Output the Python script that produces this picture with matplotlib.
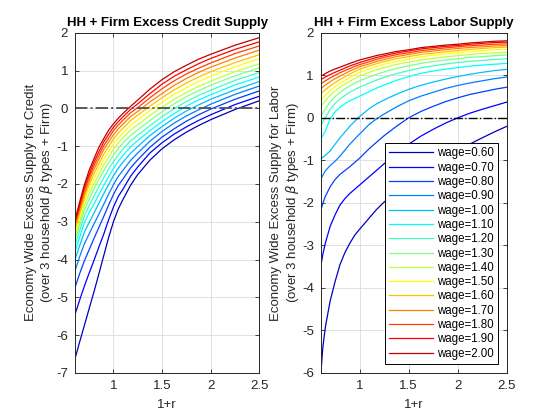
import numpy as np
import matplotlib
matplotlib.use("Agg")
import matplotlib.pyplot as plt

# -------------------------------------------------------------------------
# Data (values of each wage curve on a 1+r grid)
# -------------------------------------------------------------------------
wages = [0.60, 0.70, 0.80, 0.90, 1.00, 1.10, 1.20, 1.30,
         1.40, 1.50, 1.60, 1.70, 1.80, 1.90, 2.00]

r_credit = [0.605, 0.65, 0.7, 0.75, 0.8, 0.85, 0.9, 0.95, 1.0, 1.05, 1.1,
            1.175, 1.25, 1.375, 1.5, 1.625, 1.75, 1.875, 2.0, 2.25, 2.5]
credit = [
    [-6.62, -6.20, -5.75, -5.30, -4.85, -4.38, -3.90, -3.42, -3.00, -2.66, -2.40, -2.04, -1.75, -1.37, -1.07, -0.83, -0.63, -0.455, -0.30, -0.03, 0.20],
    [-5.45, -5.09, -4.71, -4.36, -4.02, -3.67, -3.33, -2.95, -2.61, -2.33, -2.13, -1.80, -1.55, -1.18, -0.91, -0.68, -0.49, -0.32, -0.17, 0.10, 0.32],
    [-4.74, -4.39, -4.04, -3.74, -3.44, -3.15, -2.86, -2.56, -2.28, -2.04, -1.86, -1.58, -1.36, -1.03, -0.76, -0.54, -0.34, -0.17, -0.02, 0.24, 0.46],
    [-4.30, -3.94, -3.59, -3.32, -3.06, -2.80, -2.54, -2.27, -2.02, -1.80, -1.63, -1.38, -1.18, -0.87, -0.61, -0.39, -0.20, -0.04, 0.11, 0.37, 0.59],
    [-4.00, -3.65, -3.28, -3.02, -2.77, -2.51, -2.26, -2.02, -1.78, -1.58, -1.42, -1.19, -1.01, -0.72, -0.48, -0.26, -0.07, 0.09, 0.24, 0.49, 0.71],
    [-3.80, -3.43, -3.03, -2.76, -2.53, -2.28, -2.04, -1.81, -1.59, -1.40, -1.24, -1.02, -0.85, -0.59, -0.35, -0.14, 0.06, 0.22, 0.36, 0.62, 0.83],
    [-3.64, -3.26, -2.85, -2.57, -2.32, -2.07, -1.83, -1.61, -1.41, -1.23, -1.07, -0.86, -0.71, -0.46, -0.22, -0.01, 0.18, 0.34, 0.48, 0.74, 0.95],
    [-3.50, -3.11, -2.70, -2.40, -2.14, -1.89, -1.65, -1.44, -1.24, -1.06, -0.91, -0.72, -0.57, -0.32, -0.09, 0.12, 0.31, 0.47, 0.61, 0.86, 1.07],
    [-3.39, -3.00, -2.57, -2.26, -2.00, -1.75, -1.50, -1.29, -1.08, -0.91, -0.77, -0.58, -0.43, -0.19, 0.03, 0.24, 0.42, 0.58, 0.72, 0.97, 1.18],
    [-3.29, -2.89, -2.46, -2.14, -1.86, -1.60, -1.35, -1.14, -0.94, -0.78, -0.64, -0.45, -0.30, -0.06, 0.16, 0.37, 0.55, 0.71, 0.85, 1.10, 1.31],
    [-3.20, -2.80, -2.36, -2.02, -1.73, -1.47, -1.22, -1.01, -0.81, -0.65, -0.52, -0.33, -0.18, 0.06, 0.28, 0.49, 0.67, 0.83, 0.97, 1.21, 1.42],
    [-3.12, -2.71, -2.27, -1.92, -1.61, -1.35, -1.09, -0.89, -0.70, -0.54, -0.41, -0.22, -0.08, 0.17, 0.39, 0.61, 0.79, 0.95, 1.09, 1.33, 1.54],
    [-3.05, -2.64, -2.18, -1.82, -1.51, -1.25, -0.99, -0.79, -0.59, -0.44, -0.31, -0.12, 0.02, 0.28, 0.52, 0.73, 0.91, 1.06, 1.20, 1.45, 1.65],
    [-2.99, -2.57, -2.10, -1.74, -1.42, -1.15, -0.89, -0.69, -0.50, -0.35, -0.22, -0.03, 0.12, 0.39, 0.64, 0.85, 1.02, 1.18, 1.32, 1.56, 1.76],
    [-2.95, -2.50, -2.03, -1.64, -1.33, -1.03, -0.80, -0.58, -0.41, -0.26, -0.13, 0.05, 0.22, 0.51, 0.76, 0.97, 1.14, 1.30, 1.43, 1.67, 1.87],
]

r_labor = [0.605, 0.625, 0.65, 0.7, 0.75, 0.8, 0.85, 0.9, 0.95, 1.0, 1.1, 1.175,
           1.25, 1.375, 1.5, 1.625, 1.75, 1.875, 2.0, 2.125, 2.25, 2.375, 2.5]
labor = [
    [-6.00, -5.40, -4.93, -4.30, -3.85, -3.45, -3.17, -2.95, -2.76, -2.62, -2.35, -2.15, -1.98, -1.74, -1.55, -1.34, -1.15, -0.955, -0.78, -0.615, -0.47, -0.33, -0.20],
    [-3.48, -3.21, -2.95, -2.55, -2.28, -2.05, -1.90, -1.78, -1.68, -1.58, -1.38, -1.23, -1.08, -0.84, -0.62, -0.43, -0.27, -0.125, 0.00, 0.11, 0.20, 0.285, 0.37],
    [-2.18, -2.01, -1.85, -1.62, -1.45, -1.33, -1.24, -1.15, -1.05, -0.95, -0.72, -0.57, -0.42, -0.20, 0.00, 0.15, 0.27, 0.38, 0.47, 0.55, 0.61, 0.67, 0.72],
    [-1.44, -1.35, -1.25, -1.12, -1.02, -0.90, -0.76, -0.62, -0.50, -0.38, -0.15, -0.02, 0.09, 0.255, 0.40, 0.51, 0.60, 0.69, 0.76, 0.82, 0.87, 0.92, 0.96],
    [-0.97, -0.93, -0.88, -0.78, -0.62, -0.47, -0.335, -0.20, -0.08, 0.03, 0.22, 0.33, 0.42, 0.555, 0.67, 0.765, 0.84, 0.91, 0.97, 1.025, 1.07, 1.11, 1.14],
    [-0.49, -0.415, -0.32, -0.02, 0.14, 0.25, 0.33, 0.40, 0.455, 0.51, 0.62, 0.70, 0.77, 0.88, 0.97, 1.045, 1.10, 1.145, 1.18, 1.215, 1.24, 1.26, 1.28],
    [-0.17, -0.095, 0.00, 0.20, 0.34, 0.44, 0.525, 0.60, 0.665, 0.72, 0.82, 0.89, 0.95, 1.04, 1.11, 1.175, 1.22, 1.265, 1.30, 1.33, 1.35, 1.37, 1.39],
    [0.05, 0.115, 0.20, 0.38, 0.50, 0.60, 0.68, 0.75, 0.815, 0.87, 0.96, 1.025, 1.08, 1.16, 1.22, 1.28, 1.32, 1.36, 1.39, 1.42, 1.44, 1.46, 1.48],
    [0.27, 0.33, 0.40, 0.53, 0.63, 0.72, 0.795, 0.86, 0.925, 0.98, 1.07, 1.13, 1.18, 1.255, 1.31, 1.365, 1.40, 1.435, 1.46, 1.49, 1.51, 1.53, 1.54],
    [0.42, 0.47, 0.53, 0.64, 0.73, 0.81, 0.88, 0.95, 1.01, 1.07, 1.15, 1.21, 1.26, 1.33, 1.38, 1.435, 1.47, 1.505, 1.53, 1.56, 1.58, 1.60, 1.61],
    [0.57, 0.61, 0.66, 0.75, 0.83, 0.90, 0.965, 1.03, 1.09, 1.14, 1.22, 1.275, 1.32, 1.39, 1.44, 1.49, 1.52, 1.555, 1.58, 1.61, 1.63, 1.65, 1.66],
    [0.69, 0.725, 0.77, 0.85, 0.92, 0.98, 1.04, 1.10, 1.15, 1.20, 1.27, 1.325, 1.37, 1.44, 1.49, 1.54, 1.57, 1.605, 1.63, 1.655, 1.67, 1.69, 1.70],
    [0.80, 0.83, 0.87, 0.94, 1.00, 1.06, 1.11, 1.16, 1.21, 1.25, 1.32, 1.375, 1.42, 1.485, 1.53, 1.58, 1.61, 1.645, 1.67, 1.695, 1.71, 1.73, 1.74],
    [0.90, 0.925, 0.96, 1.02, 1.07, 1.12, 1.17, 1.22, 1.26, 1.30, 1.37, 1.42, 1.46, 1.525, 1.57, 1.62, 1.65, 1.68, 1.70, 1.73, 1.75, 1.77, 1.78],
    [0.98, 1.005, 1.04, 1.10, 1.15, 1.19, 1.235, 1.28, 1.32, 1.36, 1.42, 1.465, 1.50, 1.56, 1.60, 1.65, 1.68, 1.71, 1.73, 1.76, 1.78, 1.80, 1.81],
]

# MATLAB jet(15)
colors = [
    (0, 0, 0.75), (0, 0, 1), (0, 0.25, 1), (0, 0.5, 1), (0, 0.75, 1),
    (0, 1, 1), (0.25, 1, 0.75), (0.5, 1, 0.5), (0.75, 1, 0.25), (1, 1, 0),
    (1, 0.75, 0), (1, 0.5, 0), (1, 0.25, 0), (1, 0, 0), (0.75, 0, 0),
]

plt.rcParams['font.family'] = ['Liberation Sans', 'DejaVu Sans']
plt.rcParams['mathtext.fontset'] = 'dejavusans'
plt.rcParams['axes.unicode_minus'] = False

axcol = (0.15, 0.15, 0.15)


def style_axes(ax, ylim, yticks):
    ax.set_xlim(0.605, 2.5)
    ax.set_ylim(*ylim)
    ax.set_xticks([1, 1.5, 2, 2.5])
    ax.set_xticklabels(["1", "1.5", "2", "2.5"])
    ax.set_yticks(yticks)
    ax.grid(True, color=(0.86, 0.86, 0.86), lw=0.6)
    ax.set_axisbelow(True)
    ax.tick_params(direction='in', length=3, width=0.6, top=True, right=True,
                   labelsize=9.5, colors=axcol, pad=5)
    for s in ax.spines.values():
        s.set_color(axcol)
        s.set_linewidth(0.7)


fig = plt.figure(figsize=(5.6, 4.2), dpi=100)
ax1 = fig.add_axes([0.134, 0.112, 0.329, 0.810])
ax2 = fig.add_axes([0.573, 0.112, 0.332, 0.810])

# --- left: credit ---
for w, ys, c in zip(wages, credit, colors):
    ax1.plot(r_credit, ys, color=c, lw=0.9)
ax1.axhline(0, color=(0.35, 0.35, 0.35), ls='-.', lw=1.4)
style_axes(ax1, (-7, 2), list(range(-7, 3)))
ax1.set_title("HH + Firm Excess Credit Supply", fontsize=9.5, fontweight='bold', pad=5)
ax1.set_xlabel("1+r", fontsize=9.5, color=axcol, labelpad=5)
ax1.set_ylabel("Economy Wide Excess Supply for Credit\n"
               "(over 3 household $\\beta$ types + Firm)",
               fontsize=9.5, color=axcol, labelpad=1, linespacing=1.1)

# --- right: labor ---
lines = []
for w, ys, c in zip(wages, labor, colors):
    ln, = ax2.plot(r_labor, ys, color=c, lw=0.9, label=f"wage={w:.2f}")
    lines.append(ln)
ax2.axhline(0, color='k', ls='-.', lw=1.0)
style_axes(ax2, (-6, 2), list(range(-6, 3)))
ax2.set_title("HH + Firm Excess Labor Supply", fontsize=9.5, fontweight='bold', pad=5)
ax2.set_xlabel("1+r", fontsize=9.5, color=axcol, labelpad=5)
ax2.set_ylabel("Economy Wide Excess Supply for Labor\n"
               "(over 3 household $\\beta$ types + Firm)",
               fontsize=9.5, color=axcol, labelpad=1, linespacing=1.1)
leg = ax2.legend(handles=lines, loc='lower right', fontsize=8.3, fancybox=False,
                 edgecolor='k', framealpha=1, handlelength=3.8, handletextpad=0.3,
                 labelspacing=0.2, borderpad=0.35, borderaxespad=0.8)
leg.get_frame().set_linewidth(0.7)

fig.savefig("out.png", dpi=100)
